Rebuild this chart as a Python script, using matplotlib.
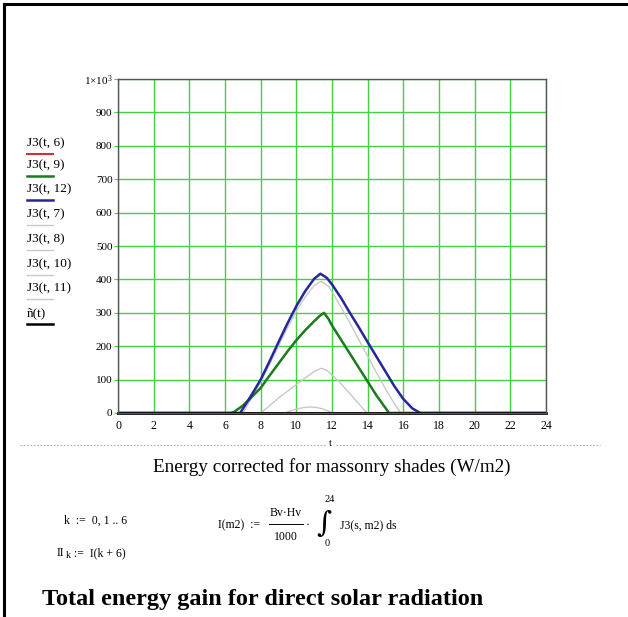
import matplotlib
matplotlib.use("Agg")
import matplotlib.pyplot as plt

plt.rcParams['font.family'] = ['Liberation Serif', 'DejaVu Serif']
plt.rcParams['mathtext.fontset'] = 'stix'

# hours of the day (x axis) and the energy of each curve (W/m2)
t_j3_6 = [0, 24]
j3_6 = [0, 0]
t_j3_9 = [0, 6.3, 6.5, 7, 7.5, 8, 8.5, 9, 9.5, 10, 10.5, 11, 11.3, 11.55,
          11.8, 12, 12.5, 13, 13.5, 14, 14.5, 15, 15.2, 24]
j3_9 = [0, 0, 3, 22, 48, 75, 112, 148, 184, 218, 248, 275, 290, 300,
        282, 262, 220, 178, 136, 94, 52, 15, 0, 0]
t_j3_12 = [0, 6.85, 7.5, 8, 8.5, 9, 9.5, 10, 10.5, 11, 11.35, 11.7, 12,
           12.5, 13, 13.5, 14, 14.5, 15, 15.5, 16, 16.5, 16.95, 24]
j3_12 = [0, 0, 55, 100, 155, 212, 268, 320, 365, 402, 417, 405, 385,
         345, 300, 257, 212, 168, 124, 80, 42, 14, 0, 0]
t_j3_7 = [0, 24]
j3_7 = [0, 0]
t_j3_8 = [0, 9.35, 9.7, 10, 10.4, 10.7, 11.1, 11.5, 11.8, 12.05, 24]
j3_8 = [0, 0, 7, 12, 16, 18, 17, 12, 6, 0, 0]
t_j3_10 = [0, 8.0, 8.5, 9, 9.5, 10, 10.5, 11, 11.4, 11.7, 12, 12.5, 13,
           13.5, 13.95, 24]
j3_10 = [0, 0, 22, 45, 65, 85, 105, 124, 134, 128, 114, 88, 58, 28, 0, 0]
t_j3_11 = [0, 7.0, 7.5, 8, 8.5, 9, 9.5, 10, 10.5, 11, 11.4, 11.8, 12, 12.5,
           13, 13.5, 14, 14.5, 15, 15.5, 15.85, 24]
j3_11 = [0, 0, 45, 92, 145, 200, 255, 305, 348, 382, 394, 380, 363, 318,
         270, 220, 170, 120, 72, 28, 0, 0]
t_n = [0, 24]
n_t = [0, 0]

legend_labels = ['J3(t, 6)', 'J3(t, 9)', 'J3(t, 12)', 'J3(t, 7)',
                 'J3(t, 8)', 'J3(t, 10)', 'J3(t, 11)', 'ñ(t)']
x_ticks = list(range(0, 25, 2))
y_ticks = list(range(0, 1001, 100))
y_ticklabels = [str(v) for v in y_ticks[:-1]] + [r'$\mathregular{1{\times}10^{3}}$']

red = '#d03030'
green = '#1d7a1d'
blue = '#26269a'
gray = '#c8c8c8'
gridgreen = '#44d044'

fig = plt.figure(figsize=(6.28, 6.17), dpi=100)

# overlay in pixel coords for the worksheet decorations
ov = fig.add_axes([0, 0, 1, 1])
ov.set_xlim(0, 628)
ov.set_ylim(617, 0)
ov.axis('off')
ov.plot([4, 4], [4, 617], color='black', lw=2.2)
ov.plot([4, 628], [4, 4], color='black', lw=2.2)

# legend (Mathcad style: label with line under it)
leg_y = [143, 165, 189, 214, 239, 264, 288, 313]
leg_cols = [red, green, blue, gray, gray, gray, gray, 'black']
leg_lw = [1.5, 1.8, 1.8, 1, 1, 1, 1, 1.8]
for lab, yy, c, lw in zip(legend_labels, leg_y, leg_cols, leg_lw):
    ov.text(27, yy, lab, fontsize=9.5, va='center', ha='left')
    ov.plot([27, 53], [yy + 11, yy + 11], color=c, lw=lw)

# dotted separator and axis variable
ov.plot([20, 325], [445, 445], color='#b0b0b0', lw=0.8, ls=(0, (1.5, 1.5)))
ov.plot([336, 600], [445, 445], color='#b0b0b0', lw=0.8, ls=(0, (1.5, 1.5)))
ov.text(330, 443, 't', fontsize=8, ha='center', va='center')

ov.text(332, 467, 'Energy corrected for massonry shades (W/m2)',
        fontsize=13.8, ha='center', va='center')

ov.text(64, 521, 'k  :=  0, 1 .. 6', fontsize=8.5, ha='left', va='center')
ov.text(57, 553, 'II', fontsize=8.5, ha='left', va='center')
ov.text(66, 556, 'k', fontsize=7, ha='left', va='center')
ov.text(74, 553, ':=  I(k + 6)', fontsize=8.5, ha='left', va='center')

ov.text(218, 525, 'I(m2)  :=', fontsize=8.5, ha='left', va='center')
ov.text(286, 513, 'Bv·Hv', fontsize=8.5, ha='center', va='center')
ov.plot([269, 303], [524, 524], color='black', lw=0.7)
ov.text(286, 537, '1000', fontsize=8.5, ha='center', va='center')
ov.text(308, 525, '·', fontsize=8.5, ha='center', va='center')
ov.text(316, 524, '∫', fontsize=21, ha='left', va='center',
        family=['DejaVu Serif'])
ov.text(325, 500, '24', fontsize=7.5, ha='left', va='center')
ov.text(325, 543, '0', fontsize=7.5, ha='left', va='center')
ov.text(340, 525, 'J3(s, m2) ds', fontsize=8.5, ha='left', va='center')

ov.text(42, 600, 'Total energy gain for direct solar radiation',
        fontsize=17.5, fontweight='bold', ha='left', va='center')

# chart
ax = fig.add_axes([118 / 628, 1 - 413 / 617, 428 / 628, 334 / 617])
ax.plot(t_j3_11, j3_11, color=gray, lw=1)
ax.plot(t_j3_10, j3_10, color=gray, lw=1)
ax.plot(t_j3_8, j3_8, color=gray, lw=1)
ax.plot(t_j3_7, j3_7, color=gray, lw=1)
ax.plot(t_j3_6, j3_6, color=red, lw=1.5)
ax.plot(t_j3_9, j3_9, color=green, lw=1.8)
ax.plot(t_j3_12, j3_12, color=blue, lw=1.8)
ax.plot(t_n, n_t, color='black', lw=2, clip_on=False)

ax.set_xlim(0, 24)
ax.set_ylim(0, 1000)
ax.set_xticks(x_ticks)
ax.set_yticks(y_ticks)
ax.set_yticklabels(y_ticklabels)
ax.grid(True, color=gridgreen, lw=1)
ax.set_axisbelow(True)
ax.tick_params(axis='x', length=0, pad=5, labelsize=8.5)
ax.tick_params(axis='y', length=3, color=gridgreen, pad=1, labelsize=8)
for s in ax.spines.values():
    s.set_color('#555555')
    s.set_linewidth(1)

fig.savefig('out.png', dpi=100)
